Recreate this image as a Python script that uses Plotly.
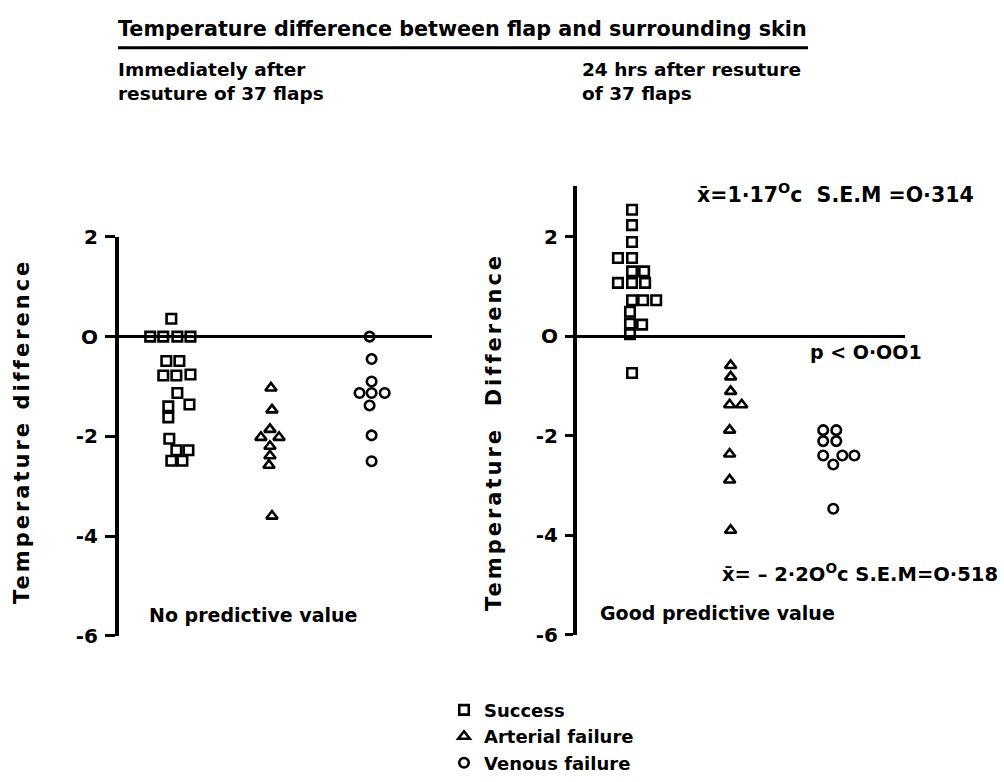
import plotly.graph_objects as go

W, H = 1004, 782

# Temperature difference between flap and surrounding skin (deg C)
categories = ["Success", "Arterial failure", "Venous failure"]
cat_pos = [1, 2, 3]

# Immediately after resuture
imm_success = [0.36, 0, 0, 0, 0, -0.49, -0.49, -0.78, -0.78, -0.76, -1.13,
               -1.36, -1.40, -1.62, -2.05, -2.28, -2.28, -2.49, -2.49]
imm_success_dx = [0.01, -0.20, -0.07, 0.07, 0.20, -0.04, 0.09, -0.07, 0.06,
                  0.20, 0.07, 0.19, -0.02, -0.02, -0.01, 0.06, 0.18, 0.01, 0.12]
imm_arterial = [-1.03, -1.47, -1.86, -2.02, -2.02, -2.20, -2.39, -2.58, -3.60]
imm_arterial_dx = [0.0, 0.01, -0.01, -0.10, 0.08, -0.01, -0.01, -0.02, 0.01]
imm_venous = [0, -0.45, -0.90, -1.13, -1.13, -1.13, -1.38, -1.98, -2.50]
imm_venous_dx = [-0.02, 0, 0, -0.12, 0, 0.13, -0.02, 0, 0]

# 24 hrs after resuture
late_success = [2.54, 2.23, 1.89, 1.57, 1.57, 1.30, 1.30, 1.07, 1.07, 1.07,
                0.72, 0.72, 0.72, 0.49, 0.25, 0.23, 0.04, -0.74]
late_success_dx = [0, 0, 0, -0.14, 0, 0, 0.12, -0.14, 0, 0.13, 0, 0.11, 0.24,
                   -0.02, -0.02, 0.10, -0.02, 0]
late_arterial = [-0.59, -0.82, -1.11, -1.38, -1.38, -1.89, -2.37, -2.89, -3.90]
late_arterial_dx = [-0.02, -0.02, -0.02, -0.03, 0.09, -0.03, -0.03, -0.03, -0.02]
late_venous = [-1.89, -1.89, -2.11, -2.11, -2.40, -2.40, -2.40, -2.58, -3.47]
late_venous_dx = [-0.10, 0.03, -0.10, 0.03, -0.10, 0.09, 0.21, 0, 0]

y_ticks = [-6, -4, -2, 0, 2]
y_ticklabels = ["-6", "-4", "-2", "O", "2"]

FONT = "DejaVu Sans"
INK = "black"


def px(x):
    return x / W


def py(y):
    return 1 - y / H


symbols = ["square-open", "triangle-up-open", "circle-open"]
sizes = [9.5, 10, 9.5]

fig = go.Figure()

panels = [
    ("x", "y", [(imm_success, imm_success_dx), (imm_arterial, imm_arterial_dx),
                (imm_venous, imm_venous_dx)], True),
    ("x2", "y2", [(late_success, late_success_dx), (late_arterial, late_arterial_dx),
                  (late_venous, late_venous_dx)], False),
]
for xa, ya, groups, show in panels:
    for i, (vals, dx) in enumerate(groups):
        fig.add_trace(go.Scatter(
            x=[cat_pos[i] + d for d in dx], y=vals,
            mode="markers", name=categories[i], legendgroup=categories[i],
            showlegend=show, xaxis=xa, yaxis=ya,
            marker=dict(symbol=symbols[i], size=sizes[i], color=INK,
                        line=dict(width=2.6, color=INK)),
        ))

axis_y = dict(
    tickmode="array", tickvals=y_ticks, ticktext=y_ticklabels,
    showline=True, linewidth=4, linecolor=INK,
    ticks="outside", tickwidth=3, tickcolor=INK,
    showgrid=False, zeroline=True, zerolinewidth=3, zerolinecolor=INK,
    tickfont=dict(family=FONT, size=20, color=INK, weight="bold"),
    ticklabelstandoff=3,
)
axis_x = dict(visible=False, showgrid=False, zeroline=False)

fig.update_layout(
    width=W, height=H,
    margin=dict(l=0, r=0, t=0, b=0),
    paper_bgcolor="white", plot_bgcolor="white",
    font=dict(family=FONT, color=INK, weight="bold"),
    xaxis=dict(axis_x, domain=[px(119), px(432)], range=[0.49, 3.60]),
    xaxis2=dict(axis_x, domain=[px(577), px(905)], range=[0.453, 3.713]),
    yaxis=dict(axis_y, anchor="x", domain=[py(646), py(233)], range=[-6, 2],
               ticklen=10),
    yaxis2=dict(axis_y, anchor="x2", domain=[py(645), py(180)], range=[-6, 3.02],
                ticklen=8),
    showlegend=True,
    legend=dict(x=px(444), y=py(704), xanchor="left", yanchor="top",
                font=dict(family=FONT, size=18, color=INK, weight="bold"),
                bgcolor="rgba(0,0,0,0)", itemwidth=30, tracegroupgap=0),
)


def note(text, x, y, size=19, xanchor="left", angle=0):
    fig.add_annotation(
        text=text, x=px(x), y=py(y), xref="paper", yref="paper",
        xanchor=xanchor, yanchor="middle", showarrow=False, textangle=angle,
        align="left",
        font=dict(family=FONT, size=size, color=INK, weight="bold"),
    )


note("Temperature difference between flap and surrounding skin", 116, 18, size=20.7)
fig.add_shape(type="line", xref="paper", yref="paper",
              x0=px(118), x1=px(808), y0=py(37), y1=py(37),
              line=dict(color=INK, width=3))

note("Immediately after<br>resuture of 37 flaps", 116, 72, size=18.5)
note("24 hrs after resuture<br>of 37 flaps", 580, 72, size=18.5)

note('<span style="letter-spacing:3px">Temperature difference</span>',
     22, 435, size=21, xanchor="center", angle=-90)
note('<span style="letter-spacing:3px">Temperature  Difference</span>',
     494, 435, size=21, xanchor="center", angle=-90)

note("No predictive value", 147, 625)
note("Good predictive value", 598, 622)
note("x\u0304=1·17<sup>O</sup>c  S.E.M =O·314", 695, 188, size=20.5)
note("p < O·OO1", 808, 352)
note("x\u0304= – 2·2O<sup>O</sup>c S.E.M=O·518", 720, 581, size=19.5)

fig.write_html("out.html")
